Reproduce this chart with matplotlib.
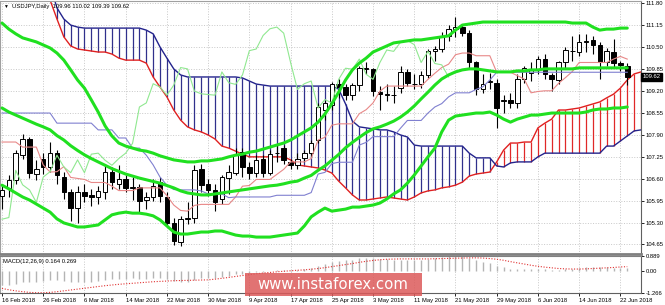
import matplotlib.pyplot as plt
from matplotlib.patches import Rectangle
from matplotlib.transforms import blended_transform_factory

plt.rcParams['font.family'] = ['Liberation Sans', 'DejaVu Sans']

header = "USDJPY,Daily  109.96 110.02 109.39 109.62"
macd_title = "MACD(12,26,9) 0.164 0.269"
last_close = 109.62

date_labels = ["16 Feb 2018", "26 Feb 2018", "6 Mar 2018", "14 Mar 2018", "22 Mar 2018",
               "30 Mar 2018", "9 Apr 2018", "17 Apr 2018", "25 Apr 2018", "3 May 2018",
               "11 May 2018", "21 May 2018", "29 May 2018", "6 Jun 2018", "14 Jun 2018",
               "22 Jun 2018"]
label_bars = [0, 6, 12, 18, 24, 30, 36, 42, 48, 54, 60, 66, 72, 78, 84, 90]
price_ticks = [111.80, 111.15, 110.50, 109.85, 109.20, 108.55, 107.90,
               107.25, 106.60, 105.95, 105.30, 104.65]
macd_ticks = [0.889, 0.0, -1.266]
macd_tick_labels = ["0.889", "0.00", "-1.266"]

# daily candles, 16 Feb 2018 .. 25 Jun 2018
opens = [106.10, 106.33, 106.56, 107.30, 107.78, 106.75, 107.20, 106.95, 107.35, 106.65,
         106.20, 105.72, 106.20, 106.12, 106.05, 106.20, 106.80, 106.45, 106.58, 106.33,
         106.35, 105.98, 106.05, 106.50, 106.05, 105.28, 104.72, 105.40, 105.45, 106.90,
         106.45, 106.27, 106.00, 106.62, 106.78, 107.40, 106.95, 106.78, 107.20, 106.78,
         107.35, 107.50, 107.10, 107.00, 107.22, 107.36, 107.75, 108.65, 108.80, 109.42,
         109.32, 109.08, 109.38, 109.88, 109.85, 109.18, 109.10, 109.10, 109.30, 109.77,
         109.42, 109.40, 109.68, 110.40, 110.45, 110.85, 111.05, 111.10, 110.93, 110.05,
         109.27, 109.48, 109.45, 108.90, 108.95, 108.85, 109.55, 109.75, 109.85, 110.15,
         109.68, 109.53, 110.05, 110.40, 110.35, 110.65, 110.72, 110.58, 110.05, 110.35,
         110.02, 109.96]
highs = [106.40, 106.70, 107.45, 107.92, 107.85, 107.15, 107.35, 107.68, 107.45, 106.80,
         106.30, 106.40, 106.45, 106.30, 106.40, 107.05, 106.95, 107.00, 106.70, 106.65,
         106.45, 106.20, 106.60, 106.65, 106.20, 105.45, 105.50, 105.90, 107.00, 107.05,
         106.60, 106.45, 106.70, 107.00, 107.50, 107.50, 107.10, 107.30, 107.30, 107.45,
         107.60, 107.60, 107.20, 107.35, 107.45, 107.75, 108.85, 108.95, 109.48, 109.55,
         109.40, 109.45, 109.95, 110.05, 109.90, 109.35, 109.40, 109.35, 109.95, 109.85,
         109.70, 109.80, 110.45, 110.55, 110.95, 111.15, 111.40, 111.20, 111.00, 110.10,
         109.70, 109.75, 109.55, 109.10, 109.15, 109.70, 109.95, 110.05, 110.25, 110.30,
         109.75, 110.10, 110.50, 110.85, 110.90, 110.90, 110.85, 110.65, 110.48, 110.75,
         110.10, 110.02]
lows = [105.70, 106.05, 106.45, 107.20, 106.62, 106.55, 106.75, 106.80, 106.45, 106.00,
        105.35, 105.30, 105.90, 105.80, 105.85, 106.00, 106.30, 106.30, 106.20, 105.98,
        105.60, 105.70, 105.95, 105.90, 105.20, 104.63, 104.62, 105.25, 105.30, 106.20,
        106.10, 105.65, 105.85, 106.15, 106.70, 106.65, 106.60, 106.65, 106.65, 106.70,
        107.10, 107.05, 106.90, 106.90, 107.10, 107.25, 107.65, 108.35, 108.65, 109.00,
        108.95, 108.95, 109.20, 109.70, 109.05, 108.65, 108.90, 108.85, 109.15, 109.35,
        109.25, 109.30, 109.60, 110.10, 110.35, 110.70, 110.80, 110.85, 109.85, 109.10,
        109.15, 109.25, 108.12, 108.55, 108.70, 108.70, 109.45, 109.50, 109.70, 109.55,
        109.20, 109.40, 109.90, 110.10, 110.25, 110.35, 110.30, 109.55, 109.95, 109.90,
        109.80, 109.39]
closes = [106.28, 106.56, 107.36, 107.78, 106.77, 106.90, 106.95, 107.35, 106.70, 106.20,
          105.73, 106.20, 106.10, 106.05, 106.25, 106.80, 106.50, 106.58, 106.33, 106.35,
          105.95, 106.05, 106.40, 106.10, 105.28, 104.75, 105.40, 105.45, 106.85, 106.42,
          106.27, 105.90, 106.65, 106.81, 107.30, 106.95, 106.78, 107.16, 106.78, 107.33,
          107.36, 107.15, 107.00, 107.20, 107.36, 107.65, 108.73, 108.85, 109.42, 109.32,
          109.08, 109.38, 109.90, 109.86, 109.20, 109.12, 109.10, 109.08, 109.77, 109.45,
          109.40, 109.68, 110.40, 110.45, 110.85, 111.05, 111.10, 110.92, 110.05, 109.25,
          109.42, 109.50, 108.70, 108.95, 108.85, 109.55, 109.88, 109.85, 110.15, 109.70,
          109.55, 110.05, 110.42, 110.38, 110.65, 110.70, 110.58, 110.05, 110.38, 110.02,
          109.98, 109.62]

bb_upper = [111.22, 111.04, 110.90, 110.78, 110.72, 110.66, 110.57, 110.48, 110.33, 110.12,
            109.83, 109.53, 109.29, 108.94, 108.58, 108.17, 107.87, 107.66, 107.57, 107.51,
            107.45, 107.42, 107.36, 107.28, 107.22, 107.16, 107.13, 107.10, 107.10, 107.13,
            107.13, 107.16, 107.19, 107.25, 107.30, 107.33, 107.39, 107.42, 107.48, 107.54,
            107.60, 107.66, 107.75, 107.87, 107.99, 108.11, 108.28, 108.52, 108.82, 109.17,
            109.53, 109.83, 110.03, 110.18, 110.36, 110.45, 110.54, 110.63, 110.66, 110.69,
            110.72, 110.72, 110.75, 110.78, 110.81, 110.84, 111.01, 111.16, 111.19, 111.22,
            111.25, 111.25, 111.25, 111.25, 111.25, 111.25, 111.25, 111.25, 111.25, 111.25,
            111.25, 111.25, 111.25, 111.22, 111.22, 111.22, 111.10, 111.01, 111.04, 111.04,
            111.07, 111.07]
bb_mid = [108.70, 108.58, 108.49, 108.40, 108.31, 108.22, 108.14, 108.05, 107.88, 107.75,
          107.58, 107.44, 107.31, 107.20, 107.10, 107.00, 106.90, 106.82, 106.74, 106.68,
          106.62, 106.57, 106.52, 106.47, 106.40, 106.33, 106.24, 106.18, 106.15, 106.12,
          106.12, 106.15, 106.18, 106.21, 106.24, 106.27, 106.30, 106.33, 106.36, 106.39,
          106.41, 106.45, 106.50, 106.53, 106.62, 106.70, 106.85, 106.98, 107.15, 107.32,
          107.52, 107.68, 107.83, 107.97, 108.08, 108.14, 108.22, 108.31, 108.43, 108.58,
          108.76, 108.97, 109.17, 109.38, 109.56, 109.68, 109.77, 109.83, 109.86, 109.86,
          109.83, 109.80, 109.77, 109.77, 109.77, 109.80, 109.80, 109.83, 109.83, 109.86,
          109.86, 109.86, 109.86, 109.86, 109.89, 109.89, 109.89, 109.89, 109.89, 109.89,
          109.89, 109.89]
bb_lower = [106.41, 106.30, 106.18, 106.06, 105.97, 105.85, 105.73, 105.61, 105.41, 105.29,
            105.23, 105.17, 105.17, 105.20, 105.23, 105.38, 105.53, 105.58, 105.61, 105.58,
            105.58, 105.55, 105.50, 105.38, 105.20, 105.02, 104.96, 104.96, 104.99, 105.02,
            105.02, 105.05, 105.05, 104.99, 104.93, 104.90, 104.90, 104.87, 104.87, 104.87,
            104.90, 104.93, 104.96, 104.99, 105.20, 105.47, 105.61, 105.73, 105.64, 105.67,
            105.70, 105.76, 105.76, 105.79, 105.82, 105.88, 106.00, 106.15, 106.27, 106.47,
            106.71, 106.98, 107.25, 107.51, 107.99, 108.34, 108.46, 108.49, 108.52, 108.55,
            108.55, 108.58, 108.49, 108.37, 108.28, 108.37, 108.43, 108.49, 108.49, 108.52,
            108.55, 108.55, 108.55, 108.55, 108.55, 108.58, 108.64, 108.67, 108.67, 108.70,
            108.70, 108.73]

tenkan = [107.69, 107.69, 107.69, 107.54, 107.54, 107.54, 107.01, 106.80, 106.81, 106.96,
          106.64, 106.61, 106.58, 106.49, 106.49, 106.49, 106.38, 106.25, 106.25, 106.25,
          106.33, 106.33, 106.33, 106.33, 106.10, 105.82, 105.66, 105.64, 105.81, 105.84,
          105.84, 105.84, 105.84, 105.84, 106.06, 106.38, 106.40, 106.58, 106.58, 106.58,
          106.73, 106.88, 107.10, 107.10, 107.10, 107.20, 107.75, 107.83, 108.19, 108.23,
          108.23, 108.23, 108.53, 108.65, 108.85, 109.20, 109.35, 109.35, 109.35, 109.35,
          109.35, 109.35, 109.55, 109.73, 109.90, 110.00, 110.28, 110.33, 110.33, 110.25,
          110.25, 110.25, 109.76, 109.76, 109.76, 109.66, 109.56, 109.15, 109.19, 109.21,
          109.21, 109.43, 109.60, 109.78, 110.05, 110.05, 110.05, 110.05, 110.05, 110.15,
          110.23, 110.15]
kijun = [108.55, 108.55, 108.55, 108.55, 108.55, 108.55, 108.55, 108.55, 108.25, 108.25,
         108.25, 108.25, 108.25, 108.25, 108.05, 108.05, 108.05, 107.81, 107.81, 107.51,
         107.51, 107.30, 107.01, 106.65, 106.41, 106.28, 106.27, 106.27, 106.27, 106.24,
         106.15, 106.15, 106.15, 106.04, 106.06, 106.06, 106.06, 106.06, 106.06, 106.06,
         106.11, 106.11, 106.11, 106.11, 106.11, 106.19, 106.74, 106.79, 107.05, 107.09,
         107.09, 107.09, 107.60, 107.68, 107.85, 107.85, 107.85, 107.85, 108.10, 108.33,
         108.33, 108.33, 108.55, 108.73, 108.83, 109.03, 109.15, 109.15, 109.15, 109.25,
         109.33, 109.53, 109.76, 109.76, 109.76, 109.76, 109.76, 109.76, 109.76, 109.76,
         109.76, 109.76, 109.76, 109.76, 109.76, 109.76, 109.76, 109.76, 109.76, 109.76,
         109.76, 109.76]

# cloud spans, from bar 7 to bar 93 (shifted ahead)
cloud_start = 7
span_a = [111.90, 111.34, 110.81, 110.54, 110.45, 110.42, 110.39, 110.36, 110.36, 110.30,
          110.18, 110.12, 110.12, 110.12, 110.03, 109.62, 109.32, 109.03, 108.64, 108.34,
          108.14, 108.05, 107.99, 107.90, 107.78, 107.57, 107.51, 107.42, 107.33, 107.25,
          107.25, 107.25, 107.25, 107.25, 107.25, 107.16, 107.01, 106.98, 106.95, 106.92,
          106.86, 106.77, 106.53, 106.33, 106.12, 105.97, 105.97, 106.00, 106.03, 106.06,
          106.03, 106.00, 105.97, 106.06, 106.18, 106.24, 106.27, 106.33, 106.36, 106.41,
          106.50, 106.68, 106.74, 106.77, 106.80, 107.10, 107.45, 107.66, 107.66, 107.69,
          107.69, 108.11, 108.25, 108.37, 108.64, 108.64, 108.67, 108.70, 108.76, 108.82,
          108.88, 109.00, 109.11, 109.29, 109.53, 109.71, 109.77]
span_b = [112.35, 111.67, 111.34, 111.16, 111.10, 111.07, 111.07, 111.07, 111.07, 111.07,
          111.07, 111.07, 111.07, 111.07, 111.01, 110.90, 110.51, 110.18, 109.86, 109.68,
          109.62, 109.62, 109.62, 109.62, 109.62, 109.62, 109.62, 109.62, 109.59, 109.50,
          109.41, 109.38, 109.35, 109.35, 109.35, 109.35, 109.35, 109.35, 109.35, 109.35,
          109.35, 109.35, 109.26, 108.82, 108.31, 108.14, 108.11, 108.08, 108.05, 108.05,
          107.99, 107.90, 107.84, 107.60, 107.57, 107.57, 107.57, 107.57, 107.57, 107.57,
          107.57, 107.36, 107.22, 107.22, 107.22, 106.98, 106.95, 107.07, 107.10, 107.10,
          107.10, 107.25, 107.36, 107.36, 107.36, 107.36, 107.36, 107.36, 107.36, 107.36,
          107.36, 107.57, 107.57, 107.72, 107.87, 108.02, 108.05]

macd_main = [-0.80, -0.78, -0.72, -0.62, -0.62, -0.60, -0.58, -0.52, -0.52, -0.55,
             -0.62, -0.60, -0.60, -0.60, -0.58, -0.50, -0.47, -0.44, -0.43, -0.42,
             -0.45, -0.44, -0.40, -0.40, -0.47, -0.58, -0.60, -0.60, -0.48, -0.42,
             -0.38, -0.38, -0.33, -0.27, -0.18, -0.14, -0.11, -0.06, -0.05, 0.00,
             0.05, 0.07, 0.07, 0.09, 0.12, 0.17, 0.29, 0.40, 0.52, 0.60,
             0.64, 0.68, 0.75, 0.80, 0.78, 0.73, 0.70, 0.66, 0.67, 0.66,
             0.64, 0.64, 0.70, 0.78, 0.85, 0.88, 0.89, 0.87, 0.78, 0.64,
             0.54, 0.46, 0.33, 0.24, 0.16, 0.14, 0.13, 0.12, 0.14, 0.12,
             0.08, 0.09, 0.13, 0.16, 0.20, 0.23, 0.25, 0.22, 0.22, 0.20,
             0.18, 0.164]
macd_signal = [-1.00, -1.08, -1.14, -1.19, -1.23, -1.25, -1.25, -1.23, -1.19, -1.14,
               -1.09, -1.04, -0.99, -0.94, -0.89, -0.84, -0.80, -0.76, -0.73, -0.70,
               -0.67, -0.64, -0.61, -0.59, -0.57, -0.55, -0.54, -0.53, -0.52, -0.51,
               -0.50, -0.46, -0.41, -0.36, -0.30, -0.25, -0.20, -0.15, -0.10, -0.07,
               -0.03, 0.00, 0.03, 0.06, 0.08, 0.12, 0.16, 0.21, 0.27, 0.33,
               0.39, 0.45, 0.52, 0.58, 0.63, 0.67, 0.70, 0.71, 0.72, 0.72,
               0.72, 0.72, 0.72, 0.73, 0.74, 0.75, 0.76, 0.77, 0.78, 0.78,
               0.77, 0.74, 0.70, 0.64, 0.56, 0.49, 0.42, 0.35, 0.29, 0.24,
               0.20, 0.16, 0.14, 0.13, 0.13, 0.14, 0.16, 0.18, 0.20, 0.22,
               0.25, 0.269]

bars = list(range(len(closes)))
cloud_bars = list(range(cloud_start, cloud_start + len(span_a)))

GRID = '#c8c8c8'
GREEN = '#20e020'
FS = 4.2

fig = plt.figure(figsize=(6.65, 3.05), dpi=100)
ax = fig.add_axes([0, 51 / 305, 641 / 665, 253 / 305])
ax2 = fig.add_axes([0, 12 / 305, 641 / 665, 37 / 305])

ax.set_xlim(-0.29, 93.0)
ax.set_ylim(104.368, 111.874)
ax2.set_xlim(-0.29, 93.0)
ax2.set_ylim(-1.266, 0.889)

# grid
for b in label_bars:
    ax.axvline(b, color=GRID, ls=':', lw=0.7, zorder=0)
    ax2.axvline(b, color=GRID, ls=':', lw=0.7, zorder=0)
for p in price_ticks:
    ax.axhline(p, color=GRID, ls=':', lw=0.7, zorder=0)

# ichimoku cloud hatching
for i, a, b in zip(cloud_bars, span_a, span_b):
    col = '#e02828' if a >= b else '#30308c'
    ax.vlines(i, min(a, b), max(a, b), color=col, lw=0.9, zorder=1)
ax.plot(cloud_bars, span_a, color='#e02020', lw=1.0, zorder=2)
ax.plot(cloud_bars, span_b, color='#23238c', lw=1.0, zorder=2)

# candles
for i, o, h, l, c in zip(bars, opens, highs, lows, closes):
    ax.vlines(i, l, h, color='black', lw=0.8, zorder=3)
    face = 'white' if c >= o else 'black'
    ax.add_patch(Rectangle((i - 0.33, min(o, c)), 0.66, max(abs(c - o), 0.012),
                           facecolor=face, edgecolor='black', lw=0.7, zorder=4))

# ichimoku lines
ax.plot(bars, tenkan, color='#e88888', lw=0.8, zorder=5)
ax.plot(bars, kijun, color='#8080d0', lw=0.8, zorder=5)
ax.plot([i - 26 for i in bars[26:]], closes[26:], color='#90e890', lw=0.8, zorder=5)

# bollinger bands
for band in (bb_upper, bb_mid, bb_lower):
    ax.plot(bars, band, color=GREEN, lw=2.2, zorder=6, solid_capstyle='round')

# axes styling
ax.yaxis.tick_right()
ax.set_yticks(price_ticks)
ax.set_yticklabels([f"{p:.2f}" for p in price_ticks])
ax.set_xticks([])
ax.tick_params(axis='y', length=2.5, width=0.6, labelsize=FS, pad=1.0)
for side in ('top', 'left'):
    ax.spines[side].set_color('#a0a0a0')
ax.spines['right'].set_color('#606060')
ax.spines['bottom'].set_color('#808080')
ax.spines['bottom'].set_linewidth(2)

ax.text(0.004, 0.988, "\u25bc", transform=ax.transAxes, va='top', fontsize=3.5)
ax.text(0.018, 0.99, header, transform=ax.transAxes, va='top', fontsize=FS)

trans = blended_transform_factory(ax.transAxes, ax.transData)
ax.text(1.003, last_close, f"{last_close:.2f}", transform=trans, va='center', ha='left',
        fontsize=FS, color='white', clip_on=False,
        bbox=dict(boxstyle='square,pad=0.25', fc='black', ec='black'))

# macd
ax2.vlines(bars, 0, macd_main, color='#b4b4b4', lw=1.0, zorder=2)
ax2.plot(bars, macd_signal, color='#e03030', lw=0.8, ls=(0, (1, 1.5)), zorder=3)
ax2.yaxis.tick_right()
ax2.set_yticks(macd_ticks)
ax2.set_yticklabels(macd_tick_labels)
ax2.set_xticks(label_bars)
ax2.set_xticklabels(date_labels, ha='left')
ax2.tick_params(axis='both', length=2.5, width=0.6, labelsize=FS, pad=1.0)
ax2.spines['top'].set_color('#808080')
ax2.spines['left'].set_color('#a0a0a0')
ax2.spines['right'].set_color('#606060')
ax2.spines['bottom'].set_color('#606060')
ax2.text(0.004, 0.93, macd_title, transform=ax2.transAxes, va='top', fontsize=FS)

# watermark
fig.patches.append(Rectangle((245 / 665, 9 / 305), 177 / 665, 23 / 305,
                             transform=fig.transFigure, facecolor='#dc5a5a',
                             alpha=0.85, edgecolor='none', zorder=10))
fig.text(333 / 665, 20.5 / 305, "www.instaforex.com", ha='center', va='center',
         color='white', fontsize=10.7, family='DejaVu Sans', zorder=11)

fig.savefig('out.png', dpi=100)
